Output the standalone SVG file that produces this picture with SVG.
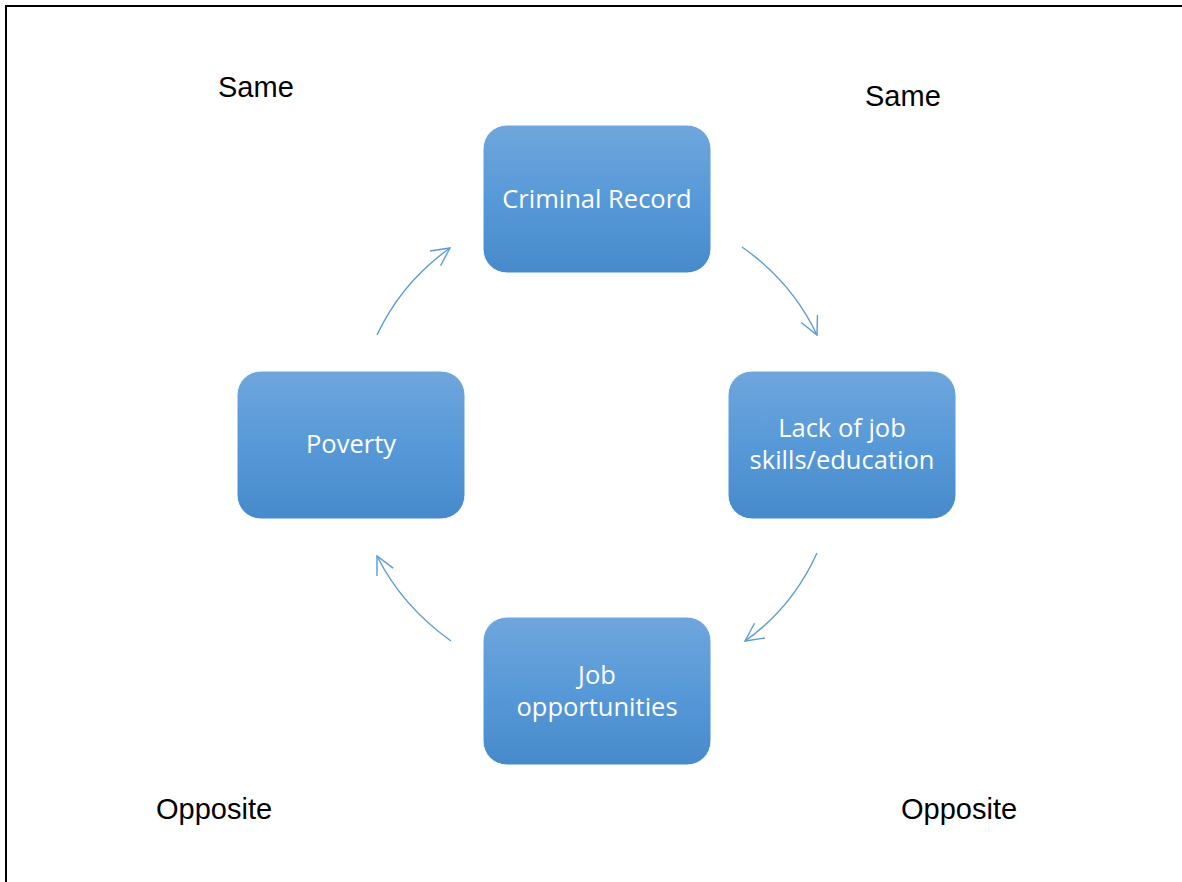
<svg xmlns="http://www.w3.org/2000/svg" width="1182" height="882" viewBox="0 0 1182 882">
<defs>
<linearGradient id="g" x1="0" y1="0" x2="0" y2="1">
<stop offset="0" stop-color="#6fa6dc"/>
<stop offset="0.5" stop-color="#5799d8"/>
<stop offset="1" stop-color="#478acb"/>
</linearGradient>
<marker id="ah" viewBox="0 0 20 20" refX="19" refY="10" markerWidth="20" markerHeight="20" markerUnits="userSpaceOnUse" orient="auto">
<path d="M1,1 L19,10 L1,19" fill="none" stroke="#5b9bd5" stroke-width="1.4"/>
</marker>
<style>
.box{fill:url(#g);stroke:#ffffff;stroke-width:1}
.lbl{font-family:"Open Sans","Noto Sans",sans-serif;font-size:25.5px;fill:#ffffff;text-anchor:middle}
.note{font-family:"Liberation Sans",Arial,sans-serif;font-size:29px;fill:#000000}
.arc{fill:none;stroke:#5b9bd5;stroke-width:1.4;marker-end:url(#ah)}
</style>
</defs>
<rect width="1182" height="882" fill="#ffffff"/>
<path d="M6,882 V6 H1182" fill="none" stroke="#000000" stroke-width="2"/>
<text class="note" x="218" y="97">Same</text>
<text class="note" x="865" y="106">Same</text>
<text class="note" x="156" y="819">Opposite</text>
<text class="note" x="901" y="819">Opposite</text>
<g id="connectors">
<path class="arc" d="M742,247 Q792,282 817,335"/>
<path class="arc" d="M817,553 Q792,608 745,641"/>
<path class="arc" d="M451,641 Q402,606 377,556"/>
<path class="arc" d="M377,335 Q402,282 450,248"/>
</g>
<g id="criminal">
<rect class="box" x="483" y="125" width="228" height="148" rx="24"/>
<text class="lbl" x="597" y="208">Criminal Record</text>
</g>
<g id="lack">
<rect class="box" x="728" y="371" width="228" height="148" rx="24"/>
<text class="lbl" x="842" y="437">Lack of job</text>
<text class="lbl" x="842" y="469">skills/education</text>
</g>
<g id="poverty">
<rect class="box" x="237" y="371" width="228" height="148" rx="24"/>
<text class="lbl" x="351" y="453">Poverty</text>
</g>
<g id="job">
<rect class="box" x="483" y="617" width="228" height="148" rx="24"/>
<text class="lbl" x="597" y="684">Job</text>
<text class="lbl" x="597" y="716">opportunities</text>
</g>
</svg>
